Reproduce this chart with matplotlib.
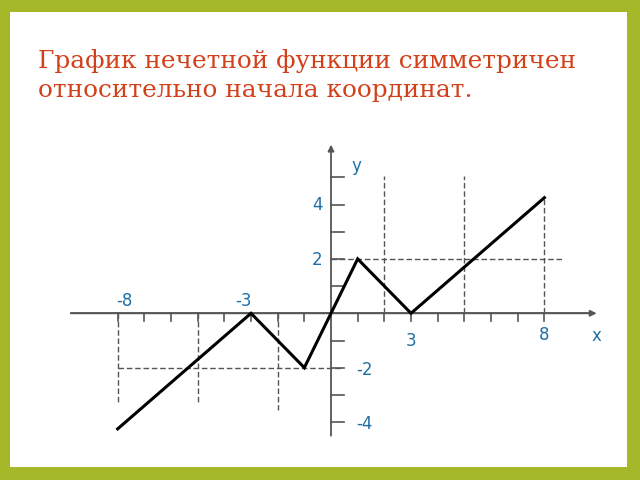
import matplotlib
matplotlib.use("Agg")
import matplotlib.pyplot as plt
from matplotlib.patches import Rectangle

# Data
func_x = [-8, -3, -1, 0, 1, 3, 8]
func_y = [-4.25, 0, -2, 0, 2, 0, 4.25]
x_ticks = [-8, -7, -6, -5, -4, -3, -2, -1, 1, 2, 3, 4, 5, 6, 7, 8]
y_ticks = [-4, -3, -2, -1, 1, 2, 3, 4, 5]
x_labels = ["-8", "-3", "3", "8"]
x_label_vals = [-8, -3, 3, 8]
y_labels = ["4", "2", "-2", "-4"]
y_label_vals = [4, 2, -2, -4]
title_lines = ["График нечетной функции симметричен",
               "относительно начала координат."]

GREEN = "#a5b82a"
RED = "#d2401a"
BLUE = "#1f6fa6"
AX = "#555555"

fig = plt.figure(figsize=(6.4, 4.8), dpi=100)
fig.patch.set_facecolor(GREEN)
fig.add_artist(Rectangle((10/640, 1-467/480), 617/640, 455/480,
                         transform=fig.transFigure, facecolor="white",
                         edgecolor="none", zorder=0))

ax = fig.add_axes([0, 0, 1, 1])
ax.set_facecolor("none")
ux, uy = 26.67, 27.2
ox, oy = 331, 313.3
ax.set_xlim(-ox/ux, (640-ox)/ux)
ax.set_ylim(-(480-oy)/uy, oy/uy)
ax.axis("off")

# axes with arrows
ax.annotate("", xy=(9.96, 0), xytext=(-9.75, 0),
            arrowprops=dict(arrowstyle="-|>", color=AX, lw=1.3, mutation_scale=9,
                            shrinkA=0, shrinkB=0))
ax.annotate("", xy=(0, 6.2), xytext=(0, -4.5),
            arrowprops=dict(arrowstyle="-|>", color=AX, lw=1.3, mutation_scale=9,
                            shrinkA=0, shrinkB=0))
ax.plot([-9.75, 9.8], [0, 0], color=AX, lw=1.2, zorder=2)

# ticks
for t in x_ticks:
    ax.plot([t, t], [0, -0.3], color=AX, lw=1.2)
for t in y_ticks:
    ax.plot([0, 0.47], [t, t], color=AX, lw=1.2)

# dashed guide lines
dash = dict(color=AX, lw=1.0, ls=(0, (4, 2)))
ax.plot([0, 8.7], [2, 2], **dash)
ax.plot([-8, 0.45], [-2, -2], **dash)
ax.plot([-8, -8], [0, -3.25], **dash)
ax.plot([-5, -5], [0, -3.3], **dash)
ax.plot([-2, -2], [0, -3.55], **dash)
ax.plot([2, 2], [0, 5.05], **dash)
ax.plot([5, 5], [0, 5.05], **dash)
ax.plot([8, 8], [0, 4.25], **dash)

# function
ax.plot(func_x, func_y, color="black", lw=2.2, solid_joinstyle="miter", zorder=5)

# labels
fs = 12
xoff = {-8: (0.24, 0.45), -3: (-0.28, 0.45), 3: (0.0, -1.02), 8: (-0.01, -0.8)}
for lab, v in zip(x_labels, x_label_vals):
    dx, dy = xoff[v]
    ax.text(v + dx, dy, lab, color=BLUE, fontsize=fs, ha="center", va="center")
for lab, v in zip(y_labels, y_label_vals):
    if v > 0:
        ax.text(-0.52, v - 0.03, lab, color=BLUE, fontsize=fs, ha="center", va="center")
    else:
        ax.text(1.27, v - 0.08, lab, color=BLUE, fontsize=fs, ha="center", va="center")
ax.text(9.97, -0.83, "x", color=BLUE, fontsize=fs, ha="center", va="center")
ax.text(0.97, 5.42, "y", color=BLUE, fontsize=fs, ha="center", va="center")

for i, line in enumerate(title_lines):
    fig.text(38/640, 1-(68.3 + 28.8*i)/480, line, color=RED, fontsize=17.8,
             family="DejaVu Serif", ha="left", va="baseline")

fig.savefig("out.png", dpi=100, facecolor=GREEN)
